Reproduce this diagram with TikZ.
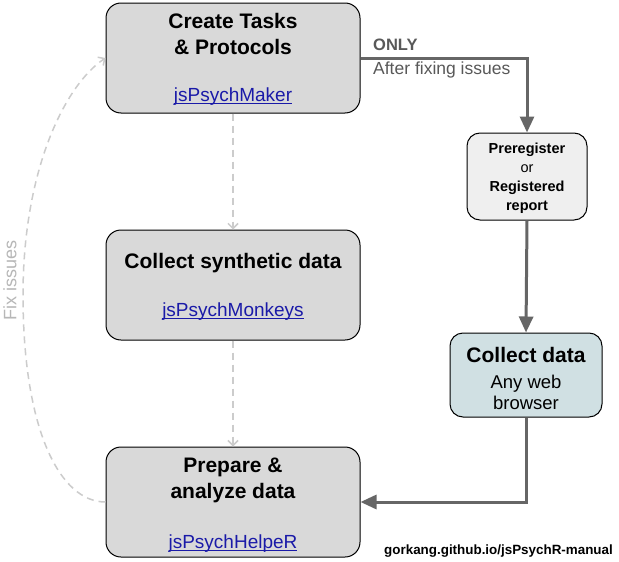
\documentclass[tikz,border=0pt]{standalone}
\usepackage{fontspec}
\setmainfont{Liberation Sans}
\usetikzlibrary{arrows.meta}
\definecolor{boxgray}{HTML}{D9D9D9}
\definecolor{pregray}{HTML}{EFEFEF}
\definecolor{colblue}{HTML}{D0E0E3}
\definecolor{arrgray}{HTML}{666666}
\definecolor{dashgray}{HTML}{CCCCCC}
\definecolor{fixgray}{HTML}{B7B7B7}
\definecolor{linkblue}{HTML}{1A1AA8}
\definecolor{txtgray}{HTML}{595959}
\newcommand\linkul[1]{\setbox0\hbox{#1}\rlap{\rule[-2.4pt]{\wd0}{1pt}}\box0}
\tikzset{
  bigbox/.style={draw=black, line width=1pt, fill=boxgray, rounded corners=15pt, minimum width=254pt, minimum height=110pt, inner sep=0pt},
  prebox/.style={draw=black, line width=1pt, fill=pregray, rounded corners=13pt, minimum width=120pt, minimum height=87pt, inner sep=0pt},
  colbox/.style={draw=black, line width=1pt, fill=colblue, rounded corners=13pt, minimum width=152pt, minimum height=84pt, inner sep=0pt},
  title/.style={inner sep=0pt, align=center, font=\fontsize{21}{26}\selectfont\bfseries},
  linktxt/.style={inner sep=0pt, text=linkblue, font=\fontsize{19}{22}\selectfont},
  pretxt/.style={inner sep=0pt, align=center, font=\fontsize{14.5}{19}\selectfont},
  solidarr/.style={draw=arrgray, line width=3pt, -{Triangle[length=16pt,width=14pt]}},
  dasharr/.style={draw=dashgray, line width=1.5pt, dash pattern=on 7pt off 5pt, -{Straight Barb[length=5pt,width=10pt]}},
}
\begin{document}
\begin{tikzpicture}[x=1pt,y=-1pt]
\useasboundingbox[fill=white] (0,0) rectangle (619,562);
% boxes
\node[bigbox] (b1) at (233,58) {};
\node[bigbox] (b2) at (233,285) {};
\node[bigbox] (b3) at (233,502) {};
\node[prebox] (pre) at (527,176.5) {};
\node[colbox] (col) at (526,375) {};
% box texts
\node[title] (t1) at (233,34) {Create Tasks\\\& Protocols};
\node[linktxt] (l1) at (233,97) {\linkul{jsPsychMaker}};
\node[title] (t2) at (233,263) {Collect synthetic data};
\node[linktxt] (l2) at (233,312) {\linkul{jsPsychMonkeys}};
\node[title] (t3) at (233,480) {Prepare \&\\analyze data};
\node[linktxt] (l3) at (233,544) {\linkul{jsPsychHelpeR}};
\node[pretxt] (pt) at (527,178) {\textbf{Preregister}\\or\\\textbf{Registered}\\\textbf{report}};
\node[inner sep=0pt, font=\fontsize{21}{24}\selectfont\bfseries] (ct) at (526,355) {Collect data};
\node[inner sep=0pt, align=center, font=\fontsize{18.5}{21}\selectfont] (cs) at (526,392) {Any web\\browser};
% connectors
\draw[solidarr] (b1.east) -| (pre.north);
\draw[solidarr] (pre.south) -- (col.north);
\draw[solidarr] (col.south) |- (b3.east);
\draw[dasharr] (b1.south) -- (b2.north);
\draw[dasharr] (b2.south) -- (b3.north);
\coordinate (fmid) at (23,295);
\draw[dasharr] (b3.west) .. controls (60,502) and (23,430) .. (fmid) .. controls (23,170) and (65,85) .. (b1.west);
% labels
\node[inner sep=0pt, anchor=west, text=txtgray, font=\fontsize{16.5}{18}\selectfont\bfseries] (only) at (373,45) {ONLY};
\node[inner sep=0pt, anchor=west, text=txtgray, font=\fontsize{17.5}{20}\selectfont] (after) at (373,70) {After fixing issues};
\node[inner sep=0pt, rotate=90, text=fixgray, font=\fontsize{18}{20}\selectfont] (fix) at (10,280) {Fix issues};
\node[inner sep=0pt, anchor=base east, font=\fontsize{13.4}{16}\selectfont\bfseries] (foot) at (613,554) {gorkang.github.io/jsPsychR-manual};
\end{tikzpicture}
\end{document}
